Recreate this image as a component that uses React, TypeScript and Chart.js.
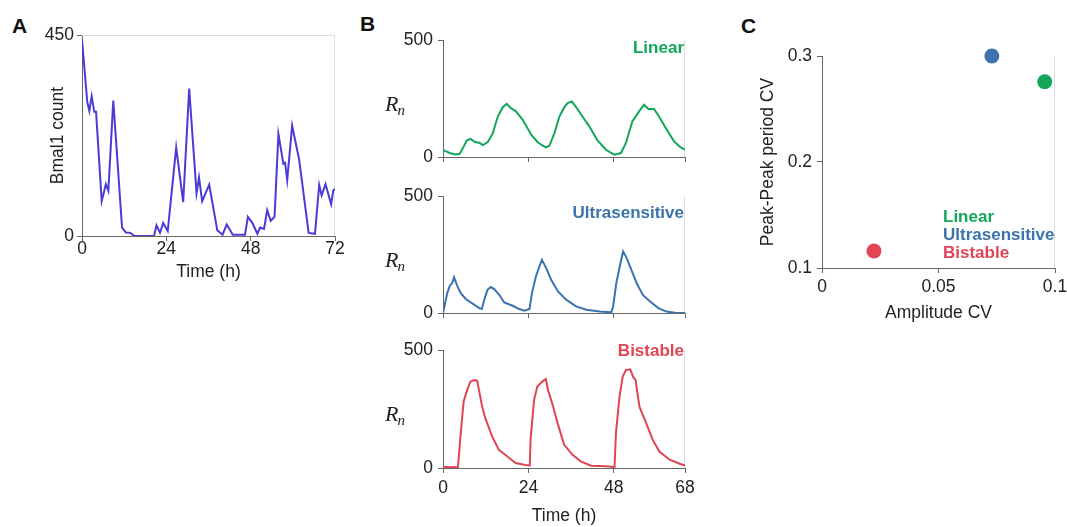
import React, { useEffect, useRef } from 'react';
import { Chart, registerables } from 'chart.js';
Chart.register(...registerables);

// ---------- Panel A data ----------
const bmalTimeH = [0, 1.5, 2.1, 2.75, 3.5, 4, 5.6, 6.8, 7.5, 8.9, 11.4, 12.5, 13.8, 14.9, 20.5, 21.2, 22.2, 23.1, 24.4, 26.8, 28.8, 30.5, 32.6, 33.3, 34.2, 36.2, 38.5, 40, 41.2, 42.9, 46.4, 47.2, 48.5, 49.9, 50.7, 51.8, 52.7, 53.7, 54.8, 55.9, 57.3, 57.8, 58.4, 59.8, 61.8, 64.5, 66.3, 67.5, 68.2, 69.3, 70.9, 71.5, 72];
const bmalCount = [440, 300, 280, 313, 278, 278, 78, 116, 101, 303, 19, 8, 7, 0, 0, 24, 7, 29, 11, 198, 76, 330, 96, 131, 78, 115, 13, 3, 26, 3, 3, 43, 29, 5, 19, 16, 58, 34, 43, 228, 162, 164, 125, 247, 171, 7, 5, 114, 91, 116, 71, 102, 105];
const bmalXTicks = [0, 24, 48, 72];
const bmalYTicks = [0, 450];

// ---------- Panel B data ----------
const linearTime = [0, 0.4, 1.9, 3.5, 4.7, 5.6, 6.7, 7.7, 8.9, 10.3, 11.2, 12.6, 14, 15.4, 16.8, 17.9, 19.1, 20.5, 22.4, 24.8, 26.6, 28.8, 29.9, 31.3, 32.7, 34.1, 35, 36.2, 37.4, 39.2, 41.1, 43.4, 45.8, 48.1, 50, 51.4, 53.2, 55.1, 56.5, 57.7, 59.3, 60.7, 62.6, 64.9, 66.8, 68];
const linearRn = [30, 27, 17, 11, 14, 38, 71, 77, 65, 60, 51, 64, 102, 173, 213, 227, 209, 195, 159, 95, 63, 41, 48, 102, 173, 213, 230, 237, 213, 173, 131, 71, 31, 10, 17, 60, 152, 195, 223, 205, 205, 173, 124, 67, 41, 31];
const ultraTime = [0, 0.6, 1.2, 1.9, 2.6, 3.1, 4, 5, 6.4, 8.3, 10.2, 10.9, 11.6, 12.5, 13.4, 14.4, 15.8, 17.2, 19.6, 21.4, 22.9, 24.3, 25, 26.1, 27.1, 27.8, 29, 30.4, 32.3, 34.6, 37.4, 40.3, 44, 47.3, 47.8, 48.7, 49.7, 50.6, 51.5, 52.9, 54.4, 56.1, 58.1, 60.5, 62.8, 65.6, 68];
const ultraRn = [0, 43, 85, 116, 128, 153, 116, 85, 60, 40, 21, 17, 57, 99, 111, 102, 78, 45, 31, 17, 10, 17, 85, 156, 199, 227, 192, 142, 92, 57, 28, 14, 6, 3, 28, 128, 202, 263, 239, 185, 128, 78, 50, 21, 6, 0, 0];
const bistableTime = [0, 4.2, 4.9, 5.8, 6.8, 7.7, 8.7, 9.6, 10.1, 11, 11.9, 13.8, 15.7, 18.1, 20.4, 23.2, 24.4, 24.6, 25.6, 26.5, 27.9, 28.9, 29.5, 30.8, 32.2, 34, 36.4, 38.7, 41.6, 45.8, 48.2, 48.6, 49.6, 50.5, 51.4, 52.6, 53.5, 54.1, 55.2, 57.1, 58.9, 60.8, 63.7, 66.5, 68];
const bistableRn = [4, 3, 134, 282, 331, 366, 373, 370, 331, 260, 211, 134, 77, 49, 21, 13, 11, 120, 289, 345, 366, 377, 331, 268, 190, 99, 56, 28, 10, 7, 4, 148, 303, 387, 415, 418, 384, 373, 260, 190, 120, 70, 35, 18, 10];
const rnXTicks = [0, 24, 48, 68];
const rnYTicks = [0, 500];

// ---------- Panel C data ----------
const modelNames = ['Linear', 'Ultrasensitive', 'Bistable'];
const amplitudeCV = [0.0956, 0.0729, 0.0223];
const periodCV = [0.2757, 0.3, 0.116];
const cvXTicks = [0, 0.05, 0.1];
const cvYTicks = [0.1, 0.2, 0.3];

// ---------- styles ----------
const FONT = "'Liberation Sans', Arial, Helvetica, sans-serif";
const SERIF = "'Liberation Serif', 'DejaVu Serif', serif";
const AXIS = '#666666';
const FRAME = '#dedede';
const TEXT = '#222222';
const PURPLE = '#4b3bd6';
const GREEN = '#14a65a';
const BLUE = '#3b73ad';
const RED = '#e04555';
const MODEL_COLORS = [GREEN, BLUE, RED];
const FS = 17.5;

function fmt(v: number) {
  return String(Math.round(v * 1000) / 1000);
}

function xAxis(o: { min: number; max: number; ticks: number[]; labels: boolean; height: number; title?: string; titlePad?: number; tickPad?: number }) {
  return {
    type: 'linear',
    position: 'bottom',
    min: o.min,
    max: o.max,
    afterBuildTicks: (s: any) => { s.ticks = o.ticks.map((v) => ({ value: v })); },
    afterFit: (s: any) => { s.height = o.height; s.paddingLeft = 0; s.paddingRight = 0; },
    grid: { drawOnChartArea: false, drawTicks: true, tickLength: 5, color: AXIS, lineWidth: 1 },
    border: { display: true, color: AXIS, width: 1 },
    ticks: {
      display: true,
      autoSkip: false,
      maxRotation: 0,
      padding: o.tickPad ?? 3,
      color: TEXT,
      font: { family: FONT, size: FS },
      callback: (v: any) => (o.labels ? fmt(Number(v)) : ''),
    },
    title: o.title
      ? { display: true, text: o.title, color: TEXT, font: { family: FONT, size: FS }, padding: o.titlePad ?? 0 }
      : { display: false },
  };
}

function yAxis(o: { min: number; max: number; ticks: number[]; width: number; title?: string; titlePad?: number; tickPad?: number }) {
  return {
    type: 'linear',
    position: 'left',
    min: o.min,
    max: o.max,
    afterBuildTicks: (s: any) => { s.ticks = o.ticks.map((v) => ({ value: v })); },
    afterFit: (s: any) => { s.width = o.width; s.paddingTop = 0; s.paddingBottom = 0; },
    grid: { drawOnChartArea: false, drawTicks: true, tickLength: 5, color: AXIS, lineWidth: 1 },
    border: { display: true, color: AXIS, width: 1 },
    ticks: {
      display: true,
      autoSkip: false,
      padding: o.tickPad ?? 3,
      color: TEXT,
      font: { family: FONT, size: FS },
      callback: (v: any) => fmt(Number(v)),
    },
    title: o.title
      ? { display: true, text: o.title, color: TEXT, font: { family: FONT, size: FS }, padding: o.titlePad ?? 0 }
      : { display: false },
  };
}

function framePlugin(top: boolean, right: boolean) {
  return {
    id: 'frame',
    beforeDatasetsDraw(chart: any) {
      const { ctx, chartArea } = chart;
      const { left, right: r, top: t, bottom } = chartArea;
      ctx.save();
      ctx.strokeStyle = FRAME;
      ctx.lineWidth = 1;
      ctx.beginPath();
      if (top) { ctx.moveTo(left, Math.round(t) + 0.5); ctx.lineTo(r, Math.round(t) + 0.5); }
      if (right) { ctx.moveTo(Math.round(r) - 0.5, t); ctx.lineTo(Math.round(r) - 0.5, bottom); }
      ctx.stroke();
      ctx.restore();
    },
  };
}

function rnLabelPlugin(name: string, color: string, nameDy: number) {
  return {
    id: 'rnLabel',
    afterDraw(chart: any) {
      const { ctx, chartArea } = chart;
      const mid = (chartArea.top + chartArea.bottom) / 2 + 4;
      ctx.save();
      ctx.fillStyle = TEXT;
      ctx.textBaseline = 'alphabetic';
      ctx.textAlign = 'left';
      ctx.font = `italic 22px ${SERIF}`;
      const rx = chartArea.left - 58;
      ctx.fillText('R', rx, mid + 8);
      const rw = ctx.measureText('R').width;
      ctx.font = `italic 15px ${SERIF}`;
      ctx.fillText('n', rx + rw - 1, mid + 12);
      ctx.font = `bold 17px ${FONT}`;
      ctx.fillStyle = color;
      ctx.textAlign = 'right';
      ctx.textBaseline = 'middle';
      ctx.fillText(name, chartArea.right - 1, chartArea.top + nameDy);
      ctx.restore();
    },
  };
}

function cvLegendPlugin() {
  return {
    id: 'cvLegend',
    afterDraw(chart: any) {
      const { ctx, chartArea } = chart;
      ctx.save();
      ctx.font = `bold 17px ${FONT}`;
      ctx.textAlign = 'left';
      ctx.textBaseline = 'middle';
      modelNames.forEach((n, i) => {
        ctx.fillStyle = MODEL_COLORS[i];
        ctx.fillText(n, chartArea.left + 121, chartArea.top + 161 + i * 18);
      });
      ctx.restore();
    },
  };
}

function pairs(xs: number[], ys: number[]) {
  return xs.map((x, i) => ({ x, y: ys[i] }));
}

type Box = { left: number; top: number; width: number; height: number };

function ChartCanvas({ box, build }: { box: Box; build: () => any }) {
  const ref = useRef<HTMLCanvasElement>(null);
  useEffect(() => {
    const chart = new Chart(ref.current as HTMLCanvasElement, build());
    return () => chart.destroy();
  }, []);
  return (
    <canvas
      ref={ref}
      width={box.width}
      height={box.height}
      style={{ position: 'absolute', left: box.left, top: box.top, width: box.width, height: box.height }}
    />
  );
}

const baseOptions = {
  responsive: false,
  animation: false,
  events: [],
  plugins: { legend: { display: false }, tooltip: { enabled: false } },
};

function buildA() {
  return {
    type: 'line',
    data: {
      datasets: [{ data: pairs(bmalTimeH, bmalCount), borderColor: PURPLE, borderWidth: 2, pointRadius: 0, tension: 0, fill: false }],
    },
    options: {
      ...baseOptions,
      layout: { padding: { left: 0, top: 35, right: 10, bottom: 0 } },
      scales: {
        x: xAxis({ min: 0, max: 72, ticks: bmalXTicks, labels: true, height: 54, title: 'Time (h)', titlePad: 7, tickPad: -2 }),
        y: yAxis({ min: 0, max: 450, ticks: bmalYTicks, width: 82, title: 'Bmal1 count', titlePad: 48 }),
      },
    },
    plugins: [framePlugin(true, true)],
  };
}

function buildB(time: number[], rn: number[], color: string, name: string, nameDy: number, bottomPanel: boolean, canvasH: number) {
  return () => ({
    type: 'line',
    data: {
      datasets: [{ data: pairs(time, rn), borderColor: color, borderWidth: 2, pointRadius: 0, tension: 0, fill: false }],
    },
    options: {
      ...baseOptions,
      layout: { padding: { left: 0, top: 20, right: 15, bottom: 0 } },
      scales: {
        x: xAxis({
          min: 0, max: 68, ticks: rnXTicks, labels: bottomPanel,
          height: bottomPanel ? canvasH - 20 - 118 : 13,
          title: bottomPanel ? 'Time (h)' : undefined, titlePad: 0, tickPad: 5,
        }),
        y: yAxis({ min: 0, max: 500, ticks: rnYTicks, width: 73, tickPad: 5 }),
      },
    },
    plugins: [framePlugin(false, true), rnLabelPlugin(name, color, nameDy)],
  });
}

function buildC() {
  return {
    type: 'scatter',
    data: {
      datasets: [{
        data: pairs(amplitudeCV, periodCV),
        backgroundColor: MODEL_COLORS,
        borderWidth: 0,
        pointRadius: 7.5,
        clip: false,
      }],
    },
    options: {
      ...baseOptions,
      layout: { padding: { left: 0, top: 26, right: 12, bottom: 0 } },
      scales: {
        x: xAxis({ min: 0, max: 0.1, ticks: cvXTicks, labels: true, height: 62, title: 'Amplitude CV', titlePad: 6, tickPad: 4 }),
        y: yAxis({ min: 0.1, max: 0.3, ticks: cvYTicks, width: 82, title: 'Peak-Peak period CV', titlePad: 18, tickPad: 5 }),
      },
    },
    plugins: [framePlugin(false, true), cvLegendPlugin()],
  };
}

const letterStyle: React.CSSProperties = {
  position: 'absolute',
  fontFamily: FONT,
  fontWeight: 'bold',
  fontSize: 21,
  lineHeight: '21px',
  color: '#111',
};

export default function App() {
  return (
    <div style={{ position: 'absolute', left: 0, top: 0, width: 1067, height: 527, background: '#fff', overflow: 'hidden' }}>
      <div style={{ ...letterStyle, left: 12, top: 15 }}>A</div>
      <div style={{ ...letterStyle, left: 360, top: 13 }}>B</div>
      <div style={{ ...letterStyle, left: 741, top: 15 }}>C</div>
      <ChartCanvas box={{ left: 0, top: 0, width: 345, height: 290 }} build={buildA} />
      <ChartCanvas box={{ left: 370, top: 20, width: 330, height: 150 }} build={buildB(linearTime, linearRn, GREEN, 'Linear', 8, false, 150)} />
      <ChartCanvas box={{ left: 370, top: 176, width: 330, height: 150 }} build={buildB(ultraTime, ultraRn, BLUE, 'Ultrasensitive', 17, false, 150)} />
      <ChartCanvas box={{ left: 370, top: 330, width: 330, height: 197 }} build={buildB(bistableTime, bistableRn, RED, 'Bistable', 1, true, 197)} />
      <ChartCanvas box={{ left: 740, top: 30, width: 327, height: 300 }} build={buildC} />
    </div>
  );
}
